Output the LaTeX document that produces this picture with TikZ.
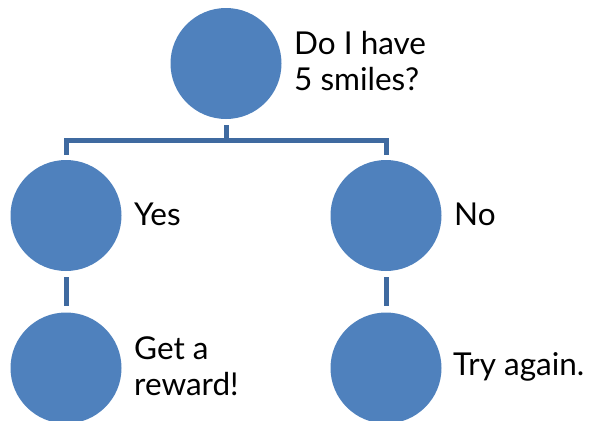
\documentclass[tikz,border=0pt]{standalone}
\usepackage{fontspec}
\setmainfont{Lato}
\definecolor{circfill}{HTML}{4F81BD}
\definecolor{linecol}{HTML}{3F6AA0}
\begin{document}
\begin{tikzpicture}[x=1pt,y=-1pt,
  bubble/.style={circle,fill=circfill,minimum size=111pt,inner sep=0pt},
  label/.style={anchor=west,inner sep=0pt,align=left,font=\fontsize{31.5}{36.5}\selectfont},
  conn/.style={draw=linecol,line width=5pt}]
\useasboundingbox (0,0) rectangle (590,421);
\node[bubble] (top) at (226,63.5) {};
\node[bubble] (yes) at (66,215.5) {};
\node[bubble] (no) at (386,215.5) {};
\node[bubble] (rew) at (66,368) {};
\node[bubble] (again) at (386,368) {};
\node[label] (tq) at (294,61) {Do I have\\5 smiles?};
\node[label] (ty) at (134,214) {Yes};
\node[label] (tn) at (454,214) {No};
\node[label] (tr) at (134,366) {Get a\\reward!};
\node[label] (ta) at (453,367) {Try again.};
\coordinate (bar) at (226,140);
\draw[conn] ([yshift=-6pt]top.south) -- (bar);
\draw[conn] ([yshift=5pt]yes.north) |- (bar) -| ([yshift=5pt]no.north);
\draw[conn] ([yshift=-6pt]yes.south) -- ([yshift=6pt]rew.north);
\draw[conn] ([yshift=-6pt]no.south) -- ([yshift=6pt]again.north);
\end{tikzpicture}
\end{document}
